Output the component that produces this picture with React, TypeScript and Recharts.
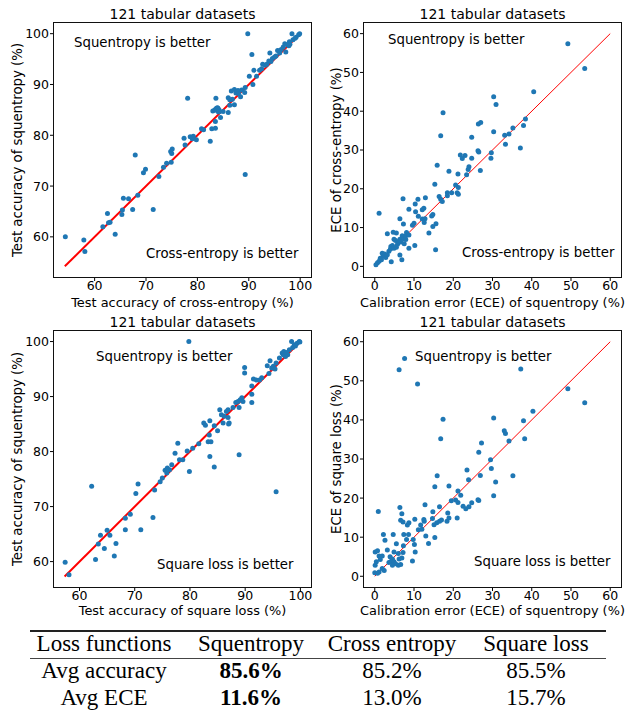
import React from 'react';
import { ScatterChart, Scatter, XAxis, YAxis, ReferenceLine } from 'recharts';

type Pt = [number, number];

// test accuracy: cross-entropy (x) vs squentropy (y)
const accCeVsSq: Pt[] = [
  [54.3, 60], [57.9, 59.4], [58.1, 57.1], [61.6, 62.0], [62.5, 64.6], [62.7, 62.8], [63.0, 62.9], [64.0, 60.5],
  [65.3, 64.4], [65.4, 65.3], [65.6, 67.6], [66.6, 67.5], [67.4, 65.4], [67.9, 76.1], [68.4, 68.2], [69.5, 72.6],
  [69.9, 73.3], [71.4, 65.4], [72.5, 71.9], [73.4, 73.7], [74.8, 76.8], [75.0, 76.4], [75.1, 77.3], [74.9, 74.7],
  [77.4, 79.4], [77.6, 78.1], [78.1, 87.3], [78.6, 79.7], [79.2, 79.8], [79.8, 79.1], [80.8, 81.3], [81.2, 81.1],
  [82.5, 78.8], [82.8, 81.3], [83.5, 81.4], [83.5, 82.7], [83.0, 84.8], [83.4, 85.0], [83.7, 85.3], [84.0, 85.3],
  [83.6, 87.3], [84.3, 84.7], [84.5, 83.5], [85.0, 84.7], [86.0, 84.5], [86.0, 87.4], [86.3, 87.0], [86.3, 85.9],
  [86.6, 88.7], [87.2, 86.0], [87.2, 89.0], [87.5, 88.3], [87.9, 88.8], [88.4, 87.6], [88.6, 88.9], [89.2, 88.4],
  [89.3, 89.4], [89.3, 72.3], [89.8, 100], [90.1, 91.6], [90.6, 95.9], [90.8, 90.0], [91.0, 92.8], [92.1, 92.8],
  [92.5, 93.1], [92.7, 94.0], [93.2, 93.8], [93.9, 94.6], [94.1, 96.2], [94.3, 94.5], [94.6, 95.1], [95.0, 95.4],
  [95.6, 96.7], [95.9, 96.6], [96.3, 96.9], [96.7, 97.4], [97.0, 98.0], [97.2, 96.4], [97.5, 97.8], [97.9, 98.4],
  [98.4, 100], [98.6, 98.8], [99.2, 99.3], [99.7, 99.8], [99.9, 100], [83.8, 84.9], [84.2, 85.0], [96.0, 96.2],
  [97.8, 97.6], [99.0, 99.1], [93.5, 94.0], [86.8, 87.1], [79.0, 79.3], [74.0, 74.5], [88.0, 88.2], [84.1, 84.6],
  [83.9, 85.4], [95.3, 95.6], [98.0, 97.9], [91.5, 91.6],
];

// ECE: squentropy (x) vs cross-entropy (y)
const eceSqVsCe: Pt[] = [
  [49.2, 57.4], [53.5, 51.0], [40.5, 45.0], [30.3, 43.7], [30.9, 41.7], [17.4, 39.6], [16.8, 33.7], [27.0, 37.1],
  [26.4, 36.7], [24.7, 33.3], [30.3, 34.7], [33.1, 33.8], [34.2, 34.1], [35.2, 35.7], [38.4, 38.0], [37.9, 36.3],
  [33.3, 31.5], [37.1, 30.5], [29.6, 27.9], [29.7, 29.3], [26.3, 29.8], [26.5, 29.5], [21.8, 28.7], [23.0, 28.6],
  [22.3, 27.8], [24.7, 27.9], [15.9, 26.1], [18.9, 24.5], [24.0, 25.7], [23.8, 25.0], [26.9, 24.7], [21.2, 23.8],
  [23.4, 23.6], [15.3, 21.2], [20.6, 21.0], [21.3, 20.3], [21.0, 19.0], [21.3, 18.6], [18.5, 19.0], [19.6, 19.0],
  [18.5, 18.2], [16.4, 18.0], [16.8, 17.3], [17.2, 16.7], [7.2, 17.4], [11.0, 17.3], [12.9, 17.7], [10.3, 16.1],
  [8.7, 14.7], [10.4, 14.1], [12.5, 15.0], [12.1, 14.6], [14.8, 13.4], [14.5, 13.0], [11.1, 12.9], [12.1, 12.2],
  [12.8, 12.3], [12.6, 11.3], [15.6, 11.0], [6.4, 12.3], [7.3, 10.9], [1.1, 13.7], [9.6, 10.6], [10.0, 11.1],
  [14.8, 10.3], [13.8, 8.6], [3.2, 8.4], [4.7, 8.8], [5.5, 8.6], [8.1, 8.7], [4.9, 7.0], [5.3, 6.7],
  [6.4, 7.0], [7.0, 7.9], [7.5, 7.1], [7.9, 6.9], [5.8, 5.7], [6.2, 6.3], [6.7, 6.3], [4.1, 5.1],
  [4.5, 5.4], [8.7, 4.7], [10.2, 5.4], [15.5, 4.3], [6.4, 2.9], [6.9, 1.7], [4.2, 1.2], [3.6, 3.9],
  [4.0, 4.5], [2.8, 2.3], [2.1, 2.6], [1.9, 3.4], [2.5, 3.2], [1.4, 2.1], [1.1, 1.3], [0.7, 0.9],
  [1.7, 1.7], [3.2, 3.0], [4.9, 4.7], [5.5, 4.9], [7.5, 5.8], [7.9, 7.9], [8.7, 8.1], [0.3, 0.4],
];

// test accuracy: square loss (x) vs squentropy (y)
const accSlVsSq: Pt[] = [
  [57.4, 59.9], [58.1, 57.6], [62.2, 73.7], [62.9, 60.4], [63.4, 63.2], [63.8, 64.8], [64.5, 62.4], [65.0, 65.7],
  [65.5, 64.8], [66.3, 61.0], [66.6, 63.3], [68.3, 65.8], [68.3, 67.9], [69.2, 68.6], [70.2, 72.4], [70.6, 74.1],
  [71.1, 65.8], [73.3, 68.0], [73.6, 73.0], [74.6, 74.5], [75.0, 75.2], [75.5, 76.6], [75.9, 77.0], [76.3, 76.7],
  [76.7, 77.6], [77.3, 79.7], [77.8, 81.5], [78.1, 78.5], [78.7, 78.5], [79.5, 80.1], [79.8, 100], [79.9, 76.4],
  [81.6, 81.4], [82.5, 85.2], [82.8, 84.8], [83.3, 81.8], [83.5, 83.0], [83.6, 85.6], [83.6, 79.1], [83.8, 81.8],
  [84.4, 77.2], [84.4, 84.7], [85.0, 83.8], [85.4, 87.6], [85.7, 86.7], [86.0, 85.2], [86.6, 87.3], [86.9, 87.6],
  [87.0, 85.0], [87.1, 85.2], [86.9, 86.2], [87.8, 88.0], [88.3, 88.9], [88.7, 89.1], [88.9, 88.0], [88.9, 79.4],
  [89.1, 89.4], [89.4, 89.8], [89.6, 89.1], [89.9, 95.3], [89.9, 94.3], [91.2, 91.9], [91.2, 90.4], [91.2, 88.9],
  [91.5, 93.2], [92.0, 93.0], [92.6, 93.0], [94.0, 95.6], [94.3, 94.2], [94.5, 96.5], [94.8, 95.2], [95.1, 95.5],
  [95.4, 95.0], [95.6, 96.1], [95.6, 72.7], [96.2, 97.0], [96.7, 97.9], [97.0, 98.2], [97.3, 97.3], [97.7, 97.6],
  [98.0, 98.5], [98.4, 100], [98.9, 99.4], [99.4, 99.7], [99.8, 100], [99.9, 99.9], [96.9, 97.6], [97.5, 98.0],
  [93.0, 93.4], [86.2, 86.4], [80.5, 80.6], [75.8, 76.1], [98.6, 98.9], [99.1, 99.2],
];

// ECE: squentropy (x) vs square loss (y)
const eceSqVsSl: Pt[] = [
  [7.6, 55.7], [6.2, 52.8], [10.9, 49.2], [37.2, 53.0], [49.2, 48.0], [53.5, 44.4], [40.3, 42.2], [37.9, 39.8],
  [30.3, 40.5], [17.4, 40.2], [16.8, 35.2], [38.2, 35.2], [33.0, 37.2], [33.3, 36.5], [34.2, 34.6], [27.2, 34.1],
  [26.5, 31.7], [29.5, 29.8], [29.7, 27.6], [35.2, 25.7], [23.5, 27.2], [23.9, 24.7], [26.9, 25.8], [15.9, 25.7],
  [15.3, 22.9], [18.9, 23.1], [30.8, 24.1], [21.2, 21.8], [21.9, 20.7], [30.3, 20.6], [19.5, 19.3], [20.6, 19.5],
  [21.2, 18.9], [22.5, 17.9], [23.2, 17.3], [24.0, 17.8], [24.7, 18.8], [26.3, 19.6], [26.5, 19.4], [18.6, 16.2],
  [16.5, 17.8], [12.8, 18.3], [6.4, 17.6], [0.9, 16.6], [6.9, 16.0], [6.6, 14.3], [7.2, 13.9], [8.3, 13.1],
  [8.7, 13.7], [10.2, 14.6], [14.8, 16.5], [14.7, 14.8], [12.5, 14.5], [12.6, 14.1], [15.1, 13.2], [15.8, 13.7],
  [16.5, 14.1], [17.0, 14.4], [18.4, 14.1], [18.9, 14.9], [21.0, 14.9], [11.7, 13.1], [11.1, 11.9], [12.0, 12.0],
  [2.2, 10.7], [4.7, 10.7], [7.4, 10.7], [8.6, 10.7], [2.6, 9.2], [5.5, 8.3], [8.1, 9.4], [9.8, 9.4],
  [13.0, 10.3], [10.1, 8.1], [7.3, 7.8], [13.7, 8.4], [15.3, 9.9], [3.2, 6.7], [4.9, 6.2], [6.0, 5.8],
  [7.2, 6.1], [10.3, 6.2], [0.1, 6.2], [0.7, 6.5], [1.1, 5.2], [0.4, 3.7], [1.4, 4.3], [1.9, 5.2],
  [3.9, 5.0], [4.5, 4.4], [4.1, 3.8], [6.2, 4.4], [6.9, 4.7], [6.0, 2.8], [6.6, 3.0], [9.6, 3.9],
  [3.6, 3.5], [4.9, 3.7], [5.3, 3.2], [1.9, 2.0], [2.4, 1.5], [1.1, 1.1], [0.1, 2.8], [0.0, 0.9],
  [0.7, 0.8], [4.5, 2.8],
];

// y = x reference lines (start, end)
const diagAcc1: Pt = [54.2, 100];
const diagEce: Pt = [0, 60];
const diagAcc2: Pt = [57.3, 100];

const accTicks = [60, 70, 80, 90, 100];
const eceTicks = [0, 10, 20, 30, 40, 50, 60];

const tableHeader = ['Loss functions', 'Squentropy', 'Cross entropy', 'Square loss'];
const avgAccuracy = ['Avg accuracy', '85.6%', '85.2%', '85.5%'];
const avgEce = ['Avg ECE', '11.6%', '13.0%', '15.7%'];

const DOT = '#1f77b4';
const FONT = '"DejaVu Sans", sans-serif';

interface PanelProps {
  left: number;
  top: number;
  width: number;
  height: number;
  mTop: number;
  mRight: number;
  yW: number;
  xH: number;
  pts: Pt[];
  dom: [number, number];
  ticks: number[];
  diag: Pt;
  diagW: number;
  xLabel: string;
  yLabel: string;
  yOff: number;
  better: string;
  worse: string;
  betterPos: [number, number];
  worsePos: [number, number];
}

const Dot = (props: any) => <circle cx={props.cx} cy={props.cy} r={2.5} fill={DOT} />;

const Panel = (p: PanelProps) => {
  const data = p.pts.map(([x, y]) => ({ x, y }));
  const plotL = p.left + p.yW;
  const plotT = p.top + p.mTop;
  const plotW = p.width - p.yW - p.mRight;
  const plotH = p.height - p.mTop - p.xH;
  const txt = { position: 'absolute' as const, whiteSpace: 'nowrap' as const, lineHeight: '16px', color: '#000' };
  return (
    <>
      <div style={{ position: 'absolute', left: p.left, top: p.top }}>
        <ScatterChart width={p.width} height={p.height} margin={{ top: p.mTop, right: p.mRight, bottom: 0, left: 0 }}>
          <XAxis
            type="number"
            dataKey="x"
            domain={p.dom}
            ticks={p.ticks}
            allowDataOverflow
            height={p.xH}
            axisLine={false}
            tickSize={3}
            tickMargin={0}
            tickLine={{ stroke: '#000' }}
            tick={{ fontSize: 12.5, fill: '#000' }}
            label={{ value: p.xLabel, position: 'insideBottom', offset: 3, fontSize: 12.9, fill: '#000' }}
          />
          <YAxis
            type="number"
            dataKey="y"
            domain={p.dom}
            ticks={p.ticks}
            allowDataOverflow
            width={p.yW}
            axisLine={false}
            tickSize={3}
            tickMargin={1}
            tickLine={{ stroke: '#000' }}
            tick={{ fontSize: 12.5, fill: '#000' }}
            label={{
              value: p.yLabel,
              angle: -90,
              position: 'insideLeft',
              offset: p.yOff,
              fontSize: 13.3,
              fill: '#000',
              style: { textAnchor: 'middle' },
            }}
          />
          <Scatter data={data} fill={DOT} shape={Dot} isAnimationActive={false} />
          <ReferenceLine
            segment={[{ x: p.diag[0], y: p.diag[0] }, { x: p.diag[1], y: p.diag[1] }]}
            stroke="#ff0000"
            strokeWidth={p.diagW}
          />
        </ScatterChart>
      </div>
      <div
        style={{
          position: 'absolute',
          left: plotL,
          top: plotT,
          width: plotW,
          height: plotH,
          border: '1.2px solid #111',
          boxSizing: 'border-box',
          pointerEvents: 'none',
        }}
      />
      <div style={{ ...txt, left: plotL, width: plotW, top: plotT - 16, textAlign: 'center', fontSize: 14 }}>
        121 tabular datasets
      </div>
      <div style={{ ...txt, left: p.betterPos[0], top: p.betterPos[1] - 8, fontSize: 13.3 }}>{p.better}</div>
      <div style={{ ...txt, left: p.worsePos[0], top: p.worsePos[1] - 8, fontSize: 13.3 }}>{p.worse}</div>
    </>
  );
};

const colCenters = [104, 251, 392, 536];

const Row = ({ cells, top, boldIdx }: { cells: string[]; top: number; boldIdx?: number }) => (
  <>
    {cells.map((c, i) => (
      <div
        key={i}
        style={{
          position: 'absolute',
          left: colCenters[i] - 80,
          width: 160,
          top,
          textAlign: 'center',
          fontSize: 23,
          lineHeight: '26px',
          fontWeight: i === boldIdx ? 'bold' : 'normal',
          whiteSpace: 'nowrap',
          color: '#000',
        }}
      >
        {c}
      </div>
    ))}
  </>
);

export default function App() {
  return (
    <div
      style={{
        position: 'absolute',
        left: 0,
        top: 0,
        width: 629,
        height: 713,
        background: '#fff',
        fontFamily: FONT,
        overflow: 'hidden',
      }}
    >
      <Panel
        left={0} top={0} width={320} height={310} mTop={22} mRight={8} yW={53} xH={32}
        pts={accCeVsSq} dom={[51.9, 102.3]} ticks={accTicks} diag={diagAcc1} diagW={2}
        xLabel="Test accuracy of cross-entropy (%)" yLabel="Test accuracy of squentropy (%)" yOff={17}
        better="Squentropy is better" worse="Cross-entropy is better" betterPos={[74, 43]} worsePos={[146, 254]}
      />
      <Panel
        left={310} top={0} width={319} height={310} mTop={22} mRight={7} yW={53} xH={32}
        pts={eceSqVsCe} dom={[-3, 63]} ticks={eceTicks} diag={diagEce} diagW={1}
        xLabel="Calibration error (ECE) of squentropy (%)" yLabel="ECE of cross-entropy (%)" yOff={26}
        better="Squentropy is better" worse="Cross-entropy is better" betterPos={[388, 40]} worsePos={[462, 253]}
      />
      <Panel
        left={0} top={305} width={320} height={313} mTop={25} mRight={8} yW={53} xH={30}
        pts={accSlVsSq} dom={[55.2, 102.1]} ticks={accTicks} diag={diagAcc2} diagW={2}
        xLabel="Test accuracy of square loss (%)" yLabel="Test accuracy of squentropy (%)" yOff={17}
        better="Squentropy is better" worse="Square loss is better" betterPos={[96, 357]} worsePos={[157, 565]}
      />
      <Panel
        left={310} top={305} width={319} height={313} mTop={25} mRight={7} yW={53} xH={30}
        pts={eceSqVsSl} dom={[-3, 63]} ticks={eceTicks} diag={diagEce} diagW={1}
        xLabel="Calibration error (ECE) of squentropy (%)" yLabel="ECE of square loss (%)" yOff={26}
        better="Squentropy is better" worse="Square loss is better" betterPos={[415, 357]} worsePos={[474, 562]}
      />
      <div style={{ fontFamily: '"Liberation Serif", serif' }}>
        <div style={{ position: 'absolute', left: 30, width: 576, top: 630, height: 1.5, background: '#222' }} />
        <Row cells={tableHeader} top={631} />
        <div style={{ position: 'absolute', left: 30, width: 576, top: 658, height: 1, background: '#444' }} />
        <Row cells={avgAccuracy} top={658} boldIdx={1} />
        <Row cells={avgEce} top={685} boldIdx={1} />
      </div>
    </div>
  );
}
